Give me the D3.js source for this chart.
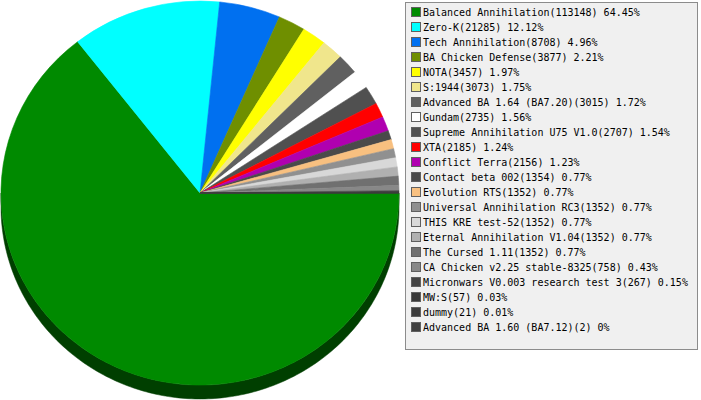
<!DOCTYPE html>
<html><head><meta charset="utf-8">
<script src="https://cdn.jsdelivr.net/npm/d3@7"></script>
<style>body{margin:0;background:#fff}svg{display:block}</style>
</head><body>
<svg id="c" width="701" height="400"></svg>
<script>
const names = ["Balanced Annihilation","Zero-K","Tech Annihilation","BA Chicken Defense","NOTA","S:1944","Advanced BA 1.64 (BA7.20)","Gundam","Supreme Annihilation U75 V1.0","XTA","Conflict Terra","Contact beta 002","Evolution RTS","Universal Annihilation RC3","THIS KRE test-52","Eternal Annihilation V1.04","The Cursed 1.11","CA Chicken v2.25 stable-8325","Micronwars V0.003 research test 3","MW:S","dummy","Advanced BA 1.60 (BA7.12)"];
const values = [113148,21285,8708,3877,3457,3073,3015,2735,2707,2185,2156,1354,1352,1352,1352,1352,1352,758,267,57,21,2];
const percents = ["64.45%","12.12%","4.96%","2.21%","1.97%","1.75%","1.72%","1.56%","1.54%","1.24%","1.23%","0.77%","0.77%","0.77%","0.77%","0.77%","0.77%","0.43%","0.15%","0.03%","0.01%","0%"];
const colors = ["#008a00","#00ffff","#0070f0","#6f8f00","#ffff00","#f0e68c","#606060","#ffffff","#505050","#ff0000","#b000b0","#4a4a4a","#f8c080","#909090","#d8d8d8","#b0b0b0","#707070","#888888","#444444","#383838","#3c3c3c","#404040"];

const svg = d3.select("#c");
const cx = 200, cy = 193, rx = 199, ry = 192, depth = 14;

const pie = d3.pie().sort(null).value(d => d).startAngle(Math.PI/2).endAngle(Math.PI/2 + 2*Math.PI);
const arcs = pie(values);

const px = a => cx + rx*Math.sin(a);
const py = a => cy - ry*Math.cos(a);

// side walls (front half only)
const sideG = svg.append("g");
arcs.forEach((d,i) => {
  let a0 = Math.max(d.startAngle, Math.PI/2), a1 = Math.min(d.endAngle, 3*Math.PI/2);
  if (a1 <= a0) return;
  const n = Math.max(2, Math.ceil((a1-a0)*60));
  const top = d3.range(n+1).map(k => a0 + (a1-a0)*k/n);
  let p = top.map(a => [px(a), py(a)]);
  let q = top.slice().reverse().map(a => [px(a), py(a)+depth]);
  const sc = d3.color(colors[i]).darker(2.2);
  sideG.append("path")
    .attr("d", "M" + p.concat(q).map(c => c.join(",")).join("L") + "Z")
    .attr("fill", sc).attr("stroke", sc).attr("stroke-width", 0.5);
});

// top faces
const arc = d3.arc().innerRadius(0).outerRadius(1);
svg.append("g").attr("transform", `translate(${cx},${cy}) scale(${rx},${ry})`)
  .selectAll("path").data(arcs).join("path")
  .attr("d", arc).attr("fill", (d,i) => colors[i])
  .attr("stroke", (d,i) => colors[i]).attr("stroke-width", 0.003);

// legend
const lx = 405.5, ly = 2.5, lw = 292, lh = 347;
svg.append("rect").attr("x", lx).attr("y", ly).attr("width", lw).attr("height", lh)
  .attr("fill", "#f0f0f0").attr("stroke", "#8c8c8c");
const rowY = d3.scaleLinear().domain([0, names.length-1]).range([12, 327]);
const items = svg.append("g").selectAll("g").data(names).join("g")
  .attr("transform", (d,i) => `translate(0,${rowY(i)})`);
items.append("rect").attr("x", 411.5).attr("y", -4.5).attr("width", 9).attr("height", 9)
  .attr("fill", (d,i) => colors[i]).attr("stroke", "#606060").attr("stroke-width", 1);
items.append("text").attr("x", 423).attr("y", 4)
  .attr("font-family", "DejaVu Sans Mono").attr("font-size", 10).attr("fill", "#000")
  .text((d,i) => `${d}(${values[i]}) ${percents[i]}`);
</script>
</body></html>
